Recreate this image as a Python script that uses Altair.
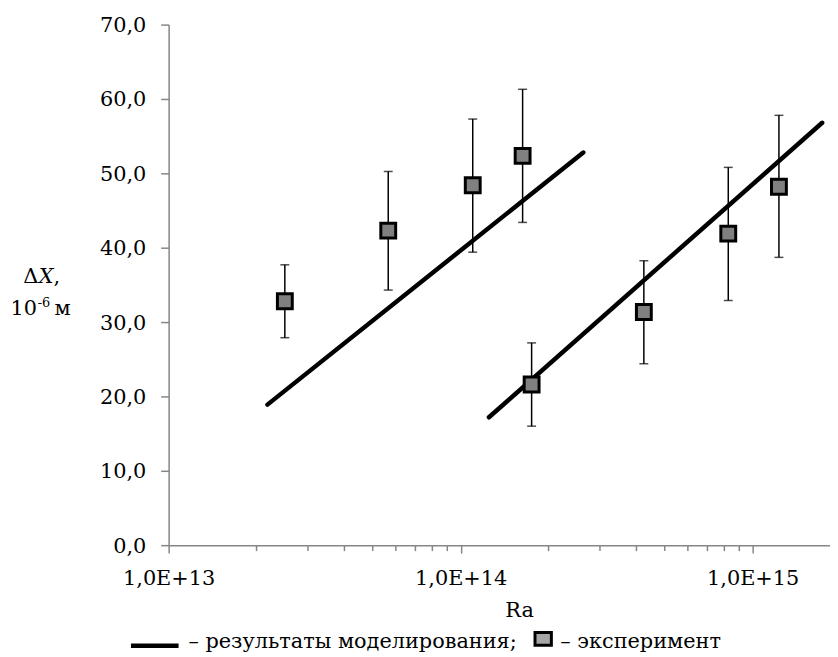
import altair as alt
import pandas as pd

# ---- data ----
# experiment (squares with error bars)
exp_ra = [2.50e13, 5.65e13, 1.10e14, 1.63e14, 1.75e14, 4.24e14, 8.25e14, 1.23e15]
exp_dx = [32.8, 42.3, 48.4, 52.35, 21.6, 31.35, 41.9, 48.2]
exp_lo = [27.9, 34.3, 39.4, 43.4, 16.0, 24.4, 32.9, 38.7]
exp_hi = [37.7, 50.25, 57.3, 61.3, 27.2, 38.25, 50.8, 57.8]

# modelling results (two straight lines on log axis)
model_series = ["1", "1", "2", "2"]
model_ra = [2.18e13, 2.63e14, 1.25e14, 1.73e15]
model_dx = [18.9, 52.8, 17.2, 56.8]

# axis ticks
x_major = [1e13, 1e14, 1e15]
x_minor = [k * 10.0 ** e for e in (13, 14) for k in range(2, 10)]
y_ticks = [0, 10, 20, 30, 40, 50, 60, 70]

# ---- layout ----
FONT = "DejaVu Serif"
FS = 21
W = 667
H = 525
X_MAX = 1.84e15
AXIS_GRAY = "#868686"

exp_df = pd.DataFrame({"Ra": exp_ra, "dX": exp_dx, "lo": exp_lo, "hi": exp_hi})
model_df = pd.DataFrame({"series": model_series, "Ra": model_ra, "dX": model_dx})
minor_df = pd.DataFrame({"Ra": x_minor})

xscale = alt.Scale(type="log", domain=[1e13, X_MAX], nice=False)
yscale = alt.Scale(domain=[0, 70], nice=False, zero=True)

x_axis = alt.Axis(
    values=x_major,
    labelExpr="'1,0E+' + round(log(datum.value) / LN10)",
    tickSize=8,
    tickWidth=1.5,
    tickColor=AXIS_GRAY,
    domainColor=AXIS_GRAY,
    domainWidth=1.5,
    labelFont=FONT,
    labelFontSize=FS,
    labelColor="black",
    labelPadding=15,
    labelFlush=False,
    labelOverlap=False,
    grid=False,
    title=None,
)
y_axis = alt.Axis(
    values=y_ticks,
    labelExpr="replace(format(datum.value, '.1f'), '.', ',')",
    tickSize=8,
    tickWidth=1.5,
    tickColor=AXIS_GRAY,
    domainColor=AXIS_GRAY,
    domainWidth=1.5,
    labelFont=FONT,
    labelFontSize=FS,
    labelColor="black",
    labelPadding=15,
    labelOffset=1,
    labelOverlap=False,
    grid=False,
    title=None,
)

X = lambda f: alt.X(f, scale=xscale, axis=x_axis)
Y = lambda f: alt.Y(f, scale=yscale, axis=y_axis)

lines = alt.Chart(model_df).mark_line(
    color="black", strokeWidth=4.5, strokeCap="round", clip=False
).encode(
    x=X("Ra:Q"),
    y=Y("dX:Q"),
    detail="series:N",
    order="Ra:Q",
)

minor_ticks = alt.Chart(minor_df).mark_rule(color=AXIS_GRAY, strokeWidth=1.5).encode(
    x=X("Ra:Q"),
    y=alt.value(H),
    y2=alt.value(H + 6),
)

err_rules = alt.Chart(exp_df).mark_rule(color="black", strokeWidth=1.5).encode(
    x=X("Ra:Q"),
    y=Y("lo:Q"),
    y2="hi:Q",
)
cap_lo = alt.Chart(exp_df).mark_tick(
    color="black", orient="horizontal", size=9, thickness=1.5
).encode(x=X("Ra:Q"), y=Y("lo:Q"))
cap_hi = alt.Chart(exp_df).mark_tick(
    color="black", orient="horizontal", size=9, thickness=1.5
).encode(x=X("Ra:Q"), y=Y("hi:Q"))
squares = alt.Chart(exp_df).mark_point(
    shape="square", size=225, filled=True, fill="#808080",
    stroke="black", strokeWidth=3, opacity=1,
).encode(x=X("Ra:Q"), y=Y("dX:Q"))

one = pd.DataFrame({"t": [""]})


def txt(s, x, y, size=FS, align="left", italic=False):
    kw = dict(text=s, font=FONT, fontSize=size, align=align, baseline="alphabetic",
              color="black")
    if italic:
        kw["fontStyle"] = "italic"
    return alt.Chart(one).mark_text(**kw).encode(x=alt.value(x), y=alt.value(y))


# y-axis title "ΔX, 10^-6 м"
ytitle = [
    txt("Δ", -146.5, 261),
    txt("X", -131, 261, italic=True),
    txt(",", -116, 261),
    txt("10", -159.5, 293),
    txt("-6", -132, 285, size=13),
    txt("м", -115, 293),
]
xtitle = txt("Ra", 354, 597, align="center")

# bottom legend
leg_line = alt.Chart(one).mark_rule(color="black", strokeWidth=4.5).encode(
    x=alt.value(-38), x2=alt.value(10), y=alt.value(626.5)
)
leg_text1 = txt("– результаты моделирования;", 20, 629)
leg_box = alt.Chart(one).mark_rect(
    fill="#a6a6a6", stroke="black", strokeWidth=3
).encode(
    x=alt.value(369.5), x2=alt.value(386), y=alt.value(613), y2=alt.value(626)
)
leg_text2 = txt("– эксперимент", 395, 629)

chart = alt.layer(
    lines, minor_ticks, err_rules, cap_lo, cap_hi, squares,
    *ytitle, xtitle, leg_line, leg_text1, leg_box, leg_text2,
).properties(
    width=W,
    height=H,
    autosize=alt.AutoSizeParams(type="none"),
    padding={"left": 162, "top": 14, "right": 0, "bottom": 106},
).configure_view(stroke=None)

chart.save("out.html", embed_options={"renderer": "svg", "actions": False})
